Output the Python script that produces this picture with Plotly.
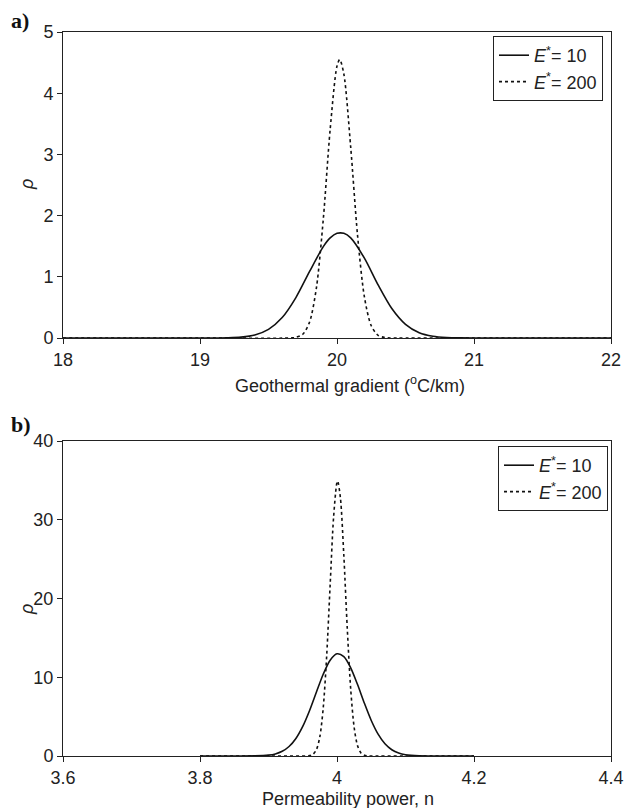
import plotly.graph_objects as go

# ---- Panel a: Geothermal gradient ----
a_x_solid = [18.0, 18.5, 19.0, 19.1, 19.2, 19.3, 19.4, 19.5, 19.6, 19.7, 19.8, 19.9, 19.95,
             20.0, 20.05, 20.1, 20.2, 20.3, 20.4, 20.5, 20.6, 20.7, 20.8, 20.9, 21.0, 21.5, 22.0]
a_y_solid = [0.0, 0.0, 0.0001, 0.0007, 0.0036, 0.0148, 0.050, 0.142, 0.335, 0.661, 1.088, 1.493, 1.635,
             1.710, 1.710, 1.635, 1.304, 0.867, 0.481, 0.223, 0.086, 0.028, 0.0075, 0.0017, 0.0003, 0.0, 0.0]

a_x_dot = [18.0, 19.0, 19.65, 19.70, 19.75, 19.80, 19.85, 19.90, 19.95, 20.00, 20.02, 20.05,
           20.10, 20.15, 20.20, 20.25, 20.30, 20.35, 20.40, 21.0, 22.0]
a_y_dot = [0.0, 0.0, 0.0, 0.011, 0.061, 0.261, 0.825, 1.943, 3.407, 4.444, 4.55, 4.314,
           3.118, 1.677, 0.671, 0.200, 0.044, 0.007, 0.0, 0.0, 0.0]

# ---- Panel b: Permeability power ----
b_x_solid = [3.80, 3.85, 3.88, 3.90, 3.91, 3.92, 3.93, 3.94, 3.95, 3.96, 3.97, 3.98, 3.99, 4.00,
             4.01, 4.02, 4.03, 4.04, 4.05, 4.06, 4.07, 4.08, 4.09, 4.10, 4.12, 4.15, 4.20]
b_y_solid = [0.0, 0.0, 0.014, 0.109, 0.267, 0.593, 1.203, 2.226, 3.757, 5.784, 8.124, 10.409, 12.168, 12.976,
             12.624, 11.203, 9.070, 6.699, 4.513, 2.774, 1.556, 0.796, 0.371, 0.158, 0.022, 0.0, 0.0]

b_x_dot = [3.80, 3.90, 3.960, 3.965, 3.970, 3.975, 3.980, 3.985, 3.990, 3.995, 4.000, 4.001,
           4.005, 4.010, 4.015, 4.020, 4.025, 4.030, 4.035, 4.040, 4.045, 4.05, 4.10, 4.20]
b_y_dot = [0.0, 0.0, 0.048, 0.218, 0.810, 2.473, 6.206, 12.81, 21.73, 30.31, 34.76, 34.9,
           32.78, 25.42, 16.20, 8.490, 3.658, 1.297, 0.378, 0.090, 0.018, 0.0, 0.0, 0.0]

a_xticks = [18, 19, 20, 21, 22]
a_yticks = [0, 1, 2, 3, 4, 5]
b_xticks = [3.6, 3.8, 4.0, 4.2, 4.4]
b_xticklabels = ["3.6", "3.8", "4", "4.2", "4.4"]
b_yticks = [0, 10, 20, 30, 40]

label_10 = "<i>E</i><sup>*</sup>= 10"
label_200 = "<i>E</i><sup>*</sup>= 200"

FONT = "Liberation Sans, Arial, sans-serif"
FS = 18
W, H = 624, 808

fig = go.Figure()

line_style = dict(color="#111111", width=1.6, shape="spline", smoothing=0.8)
dot_style = dict(color="#111111", width=1.6, dash="3px,3px", shape="spline", smoothing=0.8)

fig.add_trace(go.Scatter(x=a_x_solid, y=a_y_solid, mode="lines", name=label_10,
                         line=line_style, xaxis="x", yaxis="y", legend="legend"))
fig.add_trace(go.Scatter(x=a_x_dot, y=a_y_dot, mode="lines", name=label_200,
                         line=dot_style, xaxis="x", yaxis="y", legend="legend"))
fig.add_trace(go.Scatter(x=b_x_solid, y=b_y_solid, mode="lines", name=label_10,
                         line=line_style, xaxis="x2", yaxis="y2", legend="legend2"))
fig.add_trace(go.Scatter(x=b_x_dot, y=b_y_dot, mode="lines", name=label_200,
                         line=dot_style, xaxis="x2", yaxis="y2", legend="legend2"))

def px_x(p):
    return p / W

def px_y(p):
    return 1 - p / H

xdom = [px_x(63), px_x(611)]
axis_common = dict(showline=True, linecolor="#222222", linewidth=1, mirror=True,
                   ticks="outside", ticklen=5, tickcolor="#222222", showgrid=False,
                   zeroline=False, automargin=False,
                   tickfont=dict(family=FONT, size=FS, color="#222222"))

legend_common = dict(xanchor="left", yanchor="top", bordercolor="#222222", borderwidth=1,
                     bgcolor="white", font=dict(family=FONT, size=FS, color="#222222"),
                     itemwidth=30, tracegroupgap=0)

fig.update_layout(
    width=W, height=H,
    margin=dict(l=0, r=0, t=0, b=0, autoexpand=False),
    paper_bgcolor="white", plot_bgcolor="white",
    font=dict(family=FONT, color="#222222"),
    xaxis=dict(domain=xdom, range=[18, 22], tickvals=a_xticks, anchor="y", **axis_common),
    yaxis=dict(domain=[px_y(338), px_y(32)], range=[0, 5], tickvals=a_yticks, anchor="x", **axis_common),
    xaxis2=dict(domain=xdom, range=[3.6, 4.4], tickvals=b_xticks, ticktext=b_xticklabels,
                anchor="y2", **axis_common),
    yaxis2=dict(domain=[px_y(756), px_y(441)], range=[0, 40], tickvals=b_yticks, anchor="x2", **axis_common),
    legend=dict(x=px_x(493), y=px_y(36), **legend_common),
    legend2=dict(x=px_x(498), y=px_y(446), **legend_common),
    showlegend=True,
)

annotations = [
    dict(text="<b>a)</b>", x=px_x(9), y=px_y(20), xanchor="left", yanchor="middle",
         font=dict(family="Liberation Serif, Times New Roman, serif", size=22, color="#111111")),
    dict(text="<b>b)</b>", x=px_x(9), y=px_y(424), xanchor="left", yanchor="middle",
         font=dict(family="Liberation Serif, Times New Roman, serif", size=22, color="#111111")),
    dict(text="Geothermal gradient (<sup>o</sup>C/km)", x=px_x(350), y=px_y(384),
         xanchor="center", yanchor="middle", font=dict(family=FONT, size=FS, color="#222222")),
    dict(text="Permeability power, n", x=px_x(348), y=px_y(799),
         xanchor="center", yanchor="middle", font=dict(family=FONT, size=FS, color="#222222")),
    dict(text="<i>ρ</i>", x=px_x(27), y=px_y(185), xanchor="center", yanchor="middle",
         textangle=-90, font=dict(family=FONT, size=FS, color="#222222")),
    dict(text="<i>ρ</i>", x=px_x(27), y=px_y(610), xanchor="center", yanchor="middle",
         textangle=-90, font=dict(family=FONT, size=FS, color="#222222")),
]
for a in annotations:
    a.update(xref="paper", yref="paper", showarrow=False)
fig.update_layout(annotations=annotations)

fig.write_html("out.html", config={"displayModeBar": False},
               post_script="document.body.style.margin='0';document.body.style.overflow='hidden';")
